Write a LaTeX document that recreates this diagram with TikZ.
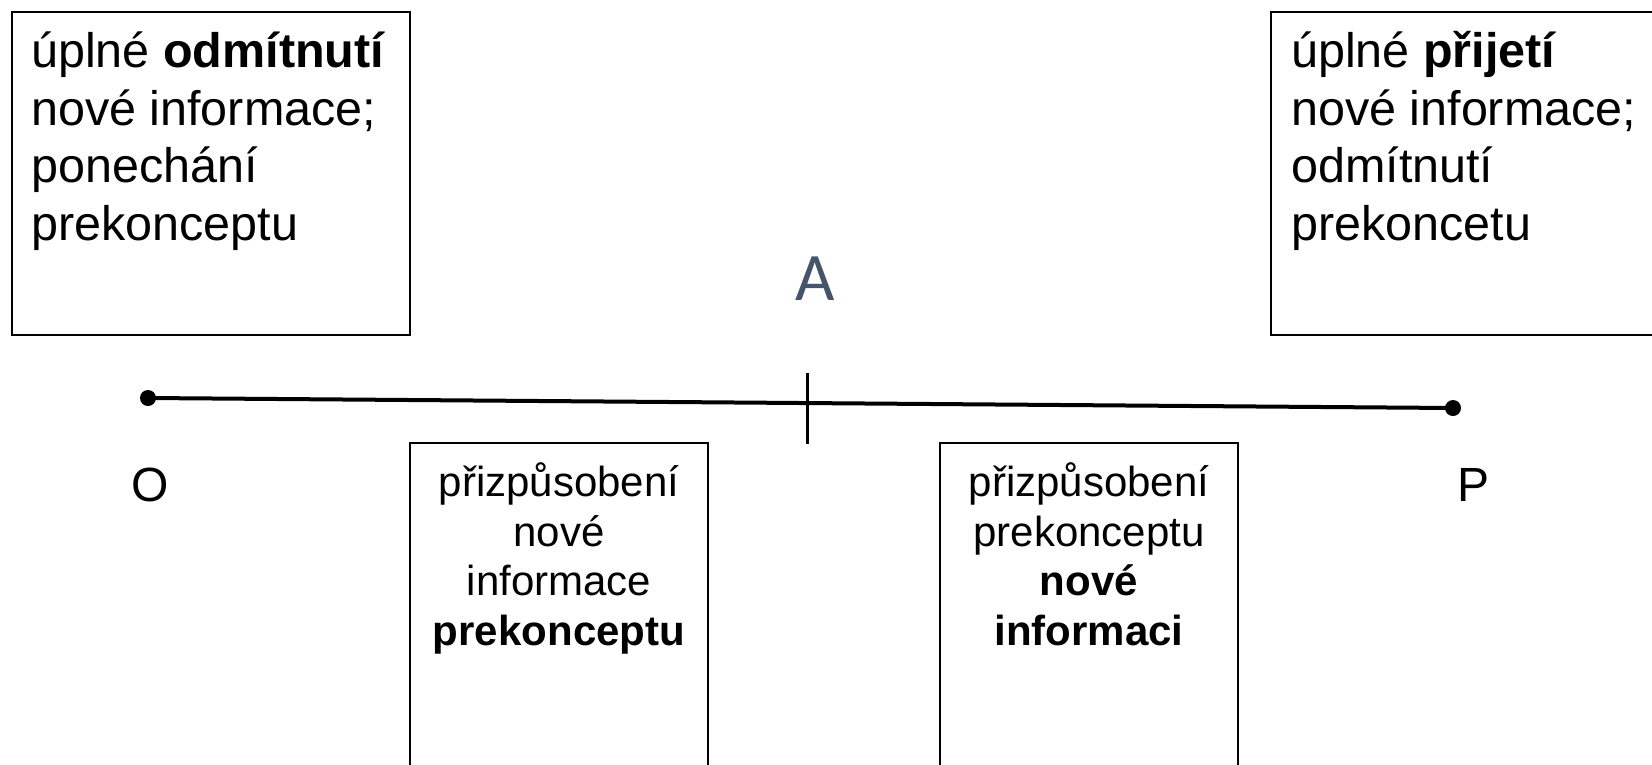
\documentclass[tikz,border=0pt]{standalone}
\usepackage{fontspec}
\setmainfont{Liberation Sans}
\newfontfamily\calibrifont{Carlito}
\definecolor{agray}{HTML}{44546A}
\begin{document}
\begin{tikzpicture}[x=1pt,y=-1pt,
  box/.style={draw=black,line width=1.5pt},
  bigtext/.style={font=\fontsize{48.5}{57.5}\selectfont,align=left,inner sep=0pt},
  smalltext/.style={font=\fontsize{42}{49.5}\selectfont,align=center,inner sep=0pt},
  endlabel/.style={font=\fontsize{48}{57}\selectfont,inner sep=0pt,anchor=base},
  dot/.style={circle,fill=black,inner sep=0pt,minimum size=16pt}]
\useasboundingbox (0,0) rectangle (1652,764);
% boxes
\draw[box] (12,12) rectangle (410,335);
\draw[box] (1271,12) rectangle (1665,335);
\draw[box] (410,443) rectangle (708,775);
\draw[box] (940,443) rectangle (1238,775);
% texts (base anchor = baseline of the last line)
\node[bigtext,anchor=base west] (tl) at (31,240) {úplné \textbf{odmítnutí}\\nové informace;\\ponechání\\prekonceptu};
\node[bigtext,anchor=base west] (tr) at (1291,240) {úplné \textbf{přijetí}\\nové informace;\\odmítnutí\\prekoncetu};
\node[smalltext,anchor=base] (bl) at (559,645) {přizpůsobení\\nové\\informace\\\textbf{prekonceptu}};
\node[smalltext,anchor=base] (br) at (1089,645) {přizpůsobení\\prekonceptu\\\textbf{nové}\\\textbf{informaci}};
% axis
\node[dot] (O) at (148,398) {};
\node[dot] (P) at (1453,408) {};
\draw[line width=4pt] (O.center) -- (P.center);
\coordinate (ttop) at (807,373);
\coordinate (tbot) at (807,444);
\draw[line width=3pt] (ttop) -- (tbot);
\node[endlabel] (Olab) at (150,501) {O};
\node[endlabel] (Plab) at (1473,501) {P};
\node[font=\calibrifont\fontsize{68}{80}\selectfont,text=agray,inner sep=0pt,anchor=base] (A) at (815,300) {A};
\end{tikzpicture}
\end{document}
